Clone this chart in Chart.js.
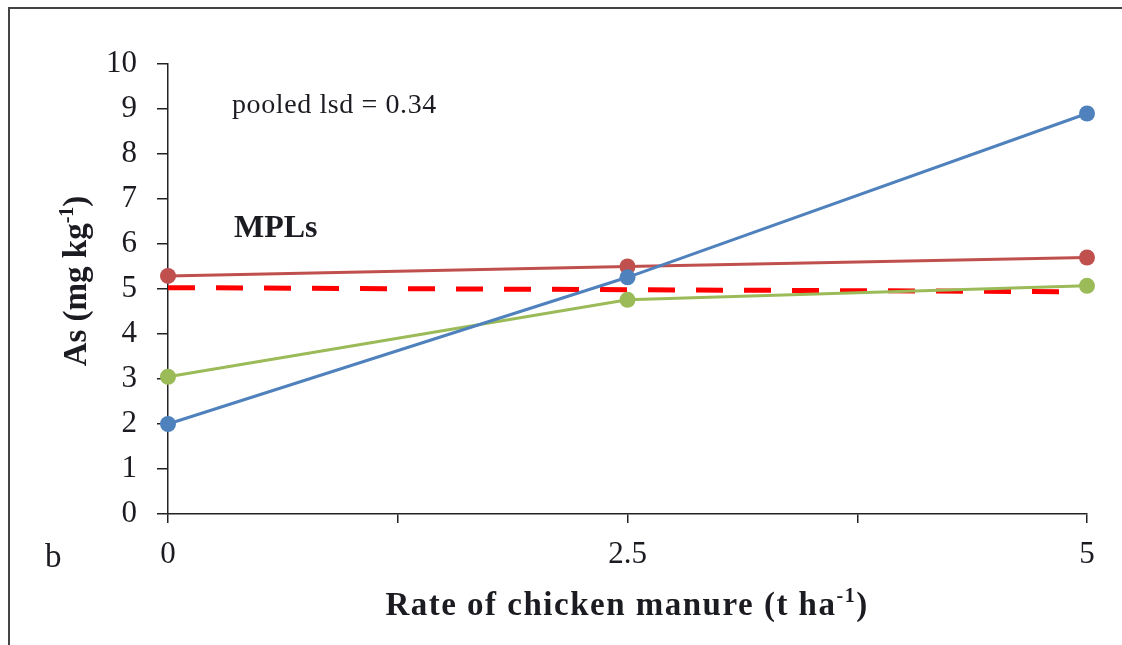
<!DOCTYPE html>
<html lang="en">
<head>
<meta charset="UTF-8">
<title>As vs chicken manure</title>
<style>
  body { margin: 0; background: #fff; }
</style>
</head>
<body>
<canvas id="chart" width="1122" height="645"></canvas>
<script src="https://cdn.jsdelivr.net/npm/chart.js"></script>
<script>
  // data
  const rates = [0, 2.5, 5];
  const blueVals = [2.0, 5.26, 8.9];
  const redVals = [5.29, 5.5, 5.7];
  const greenVals = [3.05, 4.76, 5.07];
  const mplX = [0, 4.93];
  const mplVals = [5.03, 4.94];
  const xTickLabels = [0, 2.5, 5];

  const serif = '"Liberation Serif", "DejaVu Serif", serif';
  const ink = '#1b1b22';

  function pts(xs, ys) {
    return xs.map((x, i) => ({ x: x, y: ys[i] }));
  }

  function series(vals, color) {
    return {
      data: pts(rates, vals),
      borderColor: color,
      backgroundColor: color,
      borderWidth: 3,
      pointRadius: 8,
      pointHoverRadius: 8,
      pointBorderWidth: 0,
      clip: false
    };
  }

  // text with a superscript part, drawn at current transform
  function supText(ctx, parts, x, y, size, align) {
    const big = 'bold ' + size + 'px ' + serif;
    const small = 'bold ' + Math.round(size * 0.6) + 'px ' + serif;
    ctx.font = big;
    const w0 = ctx.measureText(parts[0]).width;
    ctx.font = small;
    const w1 = ctx.measureText(parts[1]).width;
    ctx.font = big;
    const w2 = ctx.measureText(parts[2]).width;
    let sx = align === 'center' ? x - (w0 + w1 + w2) / 2 : x;
    ctx.textAlign = 'left';
    ctx.textBaseline = 'alphabetic';
    ctx.fillText(parts[0], sx, y);
    ctx.font = small;
    ctx.fillText(parts[1], sx + w0, y - size * 0.38);
    ctx.font = big;
    ctx.fillText(parts[2], sx + w0 + w1, y);
  }

  const decor = {
    id: 'decor',
    afterDraw(chart) {
      const ctx = chart.ctx;
      ctx.save();
      // frame
      ctx.strokeStyle = '#444';
      ctx.lineWidth = 2;
      ctx.beginPath();
      ctx.moveTo(9, 645);
      ctx.lineTo(9, 8);
      ctx.lineTo(1122, 8);
      ctx.stroke();

      ctx.fillStyle = ink;
      ctx.textAlign = 'left';
      ctx.textBaseline = 'alphabetic';
      ctx.letterSpacing = '0.6px';
      ctx.font = '28px ' + serif;
      ctx.fillText('pooled lsd = 0.34', 232, 113);
      ctx.letterSpacing = '0px';
      ctx.font = 'bold 32px ' + serif;
      ctx.fillText('MPLs', 234, 237);
      ctx.font = '33px ' + serif;
      ctx.fillText('b', 45, 567);

      // axis titles
      ctx.letterSpacing = '1.5px';
      supText(ctx, ['Rate of chicken manure (t ha', '-1', ')'], 627, 615, 33, 'center');
      ctx.letterSpacing = '0px';
      ctx.translate(86, 281);
      ctx.rotate(-Math.PI / 2);
      supText(ctx, ['As (mg kg', '-1', ')'], 0, 0, 33, 'center');
      ctx.restore();
    }
  };

  new Chart(document.getElementById('chart'), {
    type: 'line',
    data: {
      datasets: [
        series(blueVals, '#4F81BD'),
        series(redVals, '#C0504D'),
        series(greenVals, '#9BBB59'),
        {
          data: pts(mplX, mplVals),
          borderColor: '#FF0000',
          borderWidth: 5,
          borderDash: [27, 21],
          pointRadius: 0,
          clip: false
        }
      ]
    },
    options: {
      responsive: false,
      devicePixelRatio: 1,
      animation: false,
      layout: { padding: { top: 64, right: 35, left: 0, bottom: 0 } },
      plugins: {
        legend: { display: false },
        tooltip: { enabled: false }
      },
      scales: {
        x: {
          type: 'linear',
          min: 0,
          max: 5,
          afterFit(s) { s.height = 131; },
          afterBuildTicks(s) {
            s.ticks = [0, 1.25, 2.5, 3.75, 5].map(v => ({ value: v }));
          },
          grid: {
            drawOnChartArea: false,
            drawTicks: true,
            tickLength: 9,
            color: '#222',
            lineWidth: 1.5
          },
          border: { color: '#222', width: 1.5 },
          ticks: {
            padding: 13,
            color: ink,
            font: { family: serif, size: 31 },
            maxRotation: 0,
            callback: v => xTickLabels.includes(v) ? String(v) : ''
          }
        },
        y: {
          min: 0,
          max: 10,
          afterFit(s) { s.width = 168; },
          grid: {
            drawOnChartArea: false,
            drawTicks: true,
            tickLength: 11,
            color: '#222',
            lineWidth: 1.5
          },
          border: { color: '#222', width: 1.5 },
          ticks: {
            stepSize: 1,
            padding: 20,
            color: ink,
            font: { family: serif, size: 31 }
          }
        }
      }
    },
    plugins: [decor]
  });
</script>
</body>
</html>
